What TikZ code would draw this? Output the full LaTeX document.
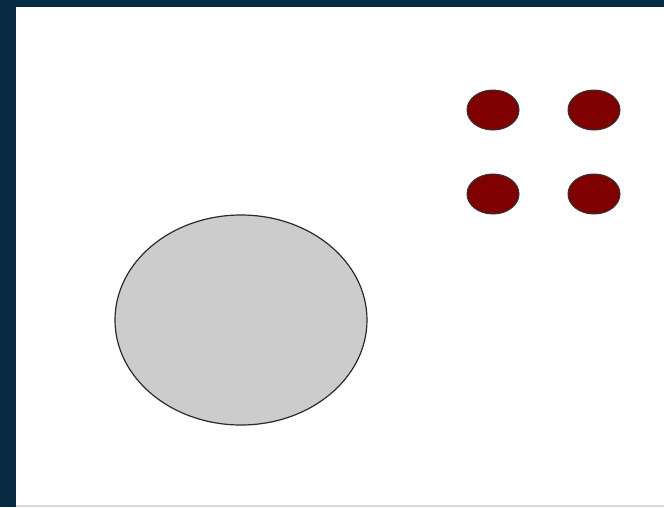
\documentclass[tikz,border=0pt]{standalone}
\usepackage{tikz}
\usepackage{xcolor}
\definecolor{frame}{HTML}{072B42}
\definecolor{plate}{HTML}{CCCCCC}
\definecolor{pit}{HTML}{7F0000}
\definecolor{edge}{HTML}{2A2A2A}
\tikzset{
  dish/.style={draw=edge, line width=1.2pt, fill=plate},
  dot/.style={draw=black!80, line width=1pt, fill=pit},
}
\begin{document}
\begin{tikzpicture}[x=1pt, y=-1pt]

  \useasboundingbox (0,0) rectangle (664,507);
  \fill[white] (0,0) rectangle (664,507);

  % frame
  \fill[frame] (0,0) rectangle (664,7);
  \fill[frame] (0,0) rectangle (16,507);
  \draw[black!15, line width=1.5pt] (16,506) -- (664,506);

  % big dish
  \draw[dish] (241,320) ellipse (126 and 105);

  % the four dots
  \foreach \x in {493,594}
    \foreach \y in {110,194}
      \draw[dot] (\x,\y) ellipse (26 and 20);

\end{tikzpicture}
\end{document}
